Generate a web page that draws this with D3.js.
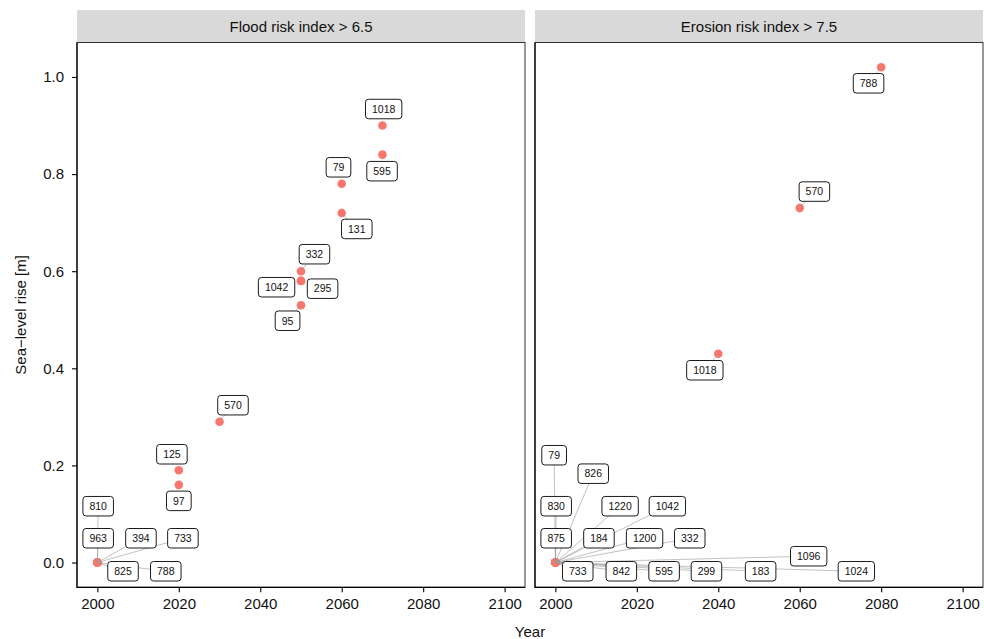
<!DOCTYPE html>
<html>
<head>
<meta charset="utf-8">
<script src="https://cdn.jsdelivr.net/npm/d3@7"></script>
<style>
  body { margin: 0; background: #fff; }
  svg { display: block; font-family: "Liberation Sans", Arial, Helvetica, sans-serif; }
</style>
</head>
<body>
<svg id="chart" width="984" height="639"></svg>
<script>
const panelTitles = ["Flood risk index > 6.5", "Erosion risk index > 7.5"];
const xTicks = [2000, 2020, 2040, 2060, 2080, 2100];
const yTicks = [0, 0.2, 0.4, 0.6, 0.8, 1.0];

// flood panel
const floodIds = [810, 963, 394, 733, 825, 788, 125, 97, 570, 332, 1042, 295, 95, 79, 131, 1018, 595];
const floodYear = [2000, 2000, 2000, 2000, 2000, 2000, 2020, 2020, 2030, 2050, 2050, 2050, 2050, 2060, 2060, 2070, 2070];
const floodRise = [0, 0, 0, 0, 0, 0, 0.19, 0.16, 0.29, 0.60, 0.58, 0.58, 0.53, 0.78, 0.72, 0.90, 0.84];
// where the repelled labels ended up, in data units
const floodLabelYear = [2000.2, 2000.2, 2010.7, 2021.0, 2006.3, 2016.8, 2018.3, 2020.0, 2033.3, 2053.3, 2044.0, 2055.3, 2046.7, 2059.2, 2063.7, 2070.3, 2069.9];
const floodLabelRise = [0.116, 0.050, 0.050, 0.050, -0.018, -0.018, 0.223, 0.127, 0.324, 0.635, 0.567, 0.564, 0.498, 0.814, 0.687, 0.934, 0.806];

// erosion panel
const erosionIds = [79, 826, 830, 1220, 1042, 875, 184, 1200, 332, 733, 842, 595, 299, 1096, 183, 1024, 1018, 570, 788];
const erosionYear = [2000, 2000, 2000, 2000, 2000, 2000, 2000, 2000, 2000, 2000, 2000, 2000, 2000, 2000, 2000, 2000, 2040, 2060, 2080];
const erosionRise = [0, 0, 0, 0, 0, 0, 0, 0, 0, 0, 0, 0, 0, 0, 0, 0, 0.43, 0.73, 1.02];
const erosionLabelYear = [1999.7, 2009.3, 2000.2, 2015.9, 2027.5, 2000.2, 2010.7, 2021.9, 2033.0, 2005.5, 2016.2, 2026.7, 2037.1, 2062.2, 2050.4, 2073.9, 2036.7, 2063.6, 2076.9];
const erosionLabelRise = [0.221, 0.183, 0.116, 0.116, 0.116, 0.050, 0.050, 0.050, 0.050, -0.018, -0.018, -0.018, -0.018, 0.013, -0.018, -0.018, 0.396, 0.764, 0.987];

const toRows = (ids, year, rise, ly, lr) =>
  ids.map((id, i) => ({ id, year: year[i], rise: rise[i], ly: ly[i], lr: lr[i] }));

const panels = [
  { title: panelTitles[0], rows: toRows(floodIds, floodYear, floodRise, floodLabelYear, floodLabelRise) },
  { title: panelTitles[1], rows: toRows(erosionIds, erosionYear, erosionRise, erosionLabelYear, erosionLabelRise) },
];

const svg = d3.select("#chart");
const panelW = 448, gap = 10, left = 77;
const stripTop = 10, panelTop = 42.5, panelBottom = 587.3;
const pointColor = "#F8766D";

const y = d3.scaleLinear().domain([-0.051, 1.071]).range([panelBottom, panelTop]);

panels.forEach((p, k) => {
  const x0 = left + k * (panelW + gap);
  const x = d3.scaleLinear().domain([1995, 2105]).range([x0, x0 + panelW]);
  const g = svg.append("g");

  // strip
  g.append("rect")
    .attr("x", x0).attr("y", stripTop)
    .attr("width", panelW).attr("height", panelTop - stripTop)
    .attr("fill", "#d9d9d9");
  g.append("text")
    .attr("x", x0 + panelW / 2).attr("y", 31.5)
    .attr("text-anchor", "middle")
    .style("font-size", "15px")
    .attr("fill", "#111")
    .text(p.title);

  // panel border
  g.append("rect")
    .attr("x", x0).attr("y", panelTop)
    .attr("width", panelW).attr("height", panelBottom - panelTop)
    .attr("fill", "none")
    .attr("stroke", "#333")
    .attr("stroke-width", 1);

  // x-axis
  const xAxis = g.append("g")
    .attr("transform", `translate(0, ${panelBottom})`)
    .call(d3.axisBottom(x).tickValues(xTicks).tickFormat(d3.format("d")).tickSize(5).tickPadding(6));
  xAxis.select(".domain").remove();
  xAxis.selectAll(".tick line").attr("stroke", "#000").attr("stroke-width", 1.1);
  xAxis.selectAll(".tick text")
    .style("font-size", "15px")
    .style("font-family", "Liberation Sans, Arial, sans-serif")
    .attr("fill", "#111");

  // y-axis
  const yAxis = g.append("g")
    .attr("transform", `translate(${x0}, 0)`)
    .call(d3.axisLeft(y).tickValues(yTicks).tickFormat(d3.format(".1f")).tickSize(k === 0 ? 5 : 0).tickPadding(8));
  yAxis.select(".domain").remove();
  yAxis.selectAll(".tick line").attr("stroke", "#000").attr("stroke-width", 1.1);
  yAxis.selectAll(".tick text")
    .style("font-size", "15px")
    .style("font-family", "Liberation Sans, Arial, sans-serif")
    .attr("fill", "#111");
  if (k > 0) yAxis.selectAll(".tick").remove();

  // axis lines
  g.append("path")
    .attr("d", `M${x0},${panelTop}V${panelBottom}H${x0 + panelW}`)
    .attr("fill", "none")
    .attr("stroke", "#000")
    .attr("stroke-width", 1.2);

  // points
  g.append("g")
    .selectAll("circle")
    .data(p.rows)
    .enter()
    .append("circle")
    .attr("cx", (d) => x(d.year))
    .attr("cy", (d) => y(d.rise))
    .attr("r", 4.3)
    .attr("fill", pointColor);

  // labels (measure text first to size the boxes)
  const segG = g.append("g");
  const labG = g.append("g");
  const boxH = 19.5;

  p.rows.forEach((d) => {
    const cx = x(d.ly), cy = y(d.lr);
    const lab = labG.append("g");
    const rect = lab.append("rect");
    const txt = lab.append("text")
      .attr("x", cx).attr("y", cy + 3.8)
      .attr("text-anchor", "middle")
      .style("font-size", "10.5px")
      .attr("fill", "#111")
      .text(d.id);
    const w = txt.node().getComputedTextLength() + 13;
    rect.attr("x", cx - w / 2).attr("y", cy - boxH / 2)
      .attr("width", w).attr("height", boxH)
      .attr("rx", 3).attr("ry", 3)
      .attr("fill", "#fff")
      .attr("stroke", "#000")
      .attr("stroke-width", 0.9);

    // segment from point to box edge
    const px = x(d.year), py = y(d.rise);
    const dx = cx - px, dy = cy - py;
    const tx = dx === 0 ? Infinity : (w / 2) / Math.abs(dx);
    const ty = dy === 0 ? Infinity : (boxH / 2) / Math.abs(dy);
    const t = Math.min(tx, ty, 1);
    const ex = cx - dx * t, ey = cy - dy * t;
    const len = Math.hypot(ex - px, ey - py);
    if (len > 7) {
      segG.append("line")
        .attr("x1", px).attr("y1", py)
        .attr("x2", ex).attr("y2", ey)
        .attr("stroke", "#999")
        .attr("stroke-width", 0.6);
    }
  });
});

// axis titles
svg.append("text")
  .attr("x", left + panelW + gap / 2).attr("y", 636.5)
  .attr("text-anchor", "middle")
  .style("font-size", "15px")
  .attr("fill", "#111")
  .text("Year");

svg.append("text")
  .attr("transform", `translate(26, ${(panelTop + panelBottom) / 2}) rotate(-90)`)
  .attr("text-anchor", "middle")
  .style("font-size", "15px")
  .attr("fill", "#111")
  .text("Sea\u2212level rise [m]");
</script>
</body>
</html>
